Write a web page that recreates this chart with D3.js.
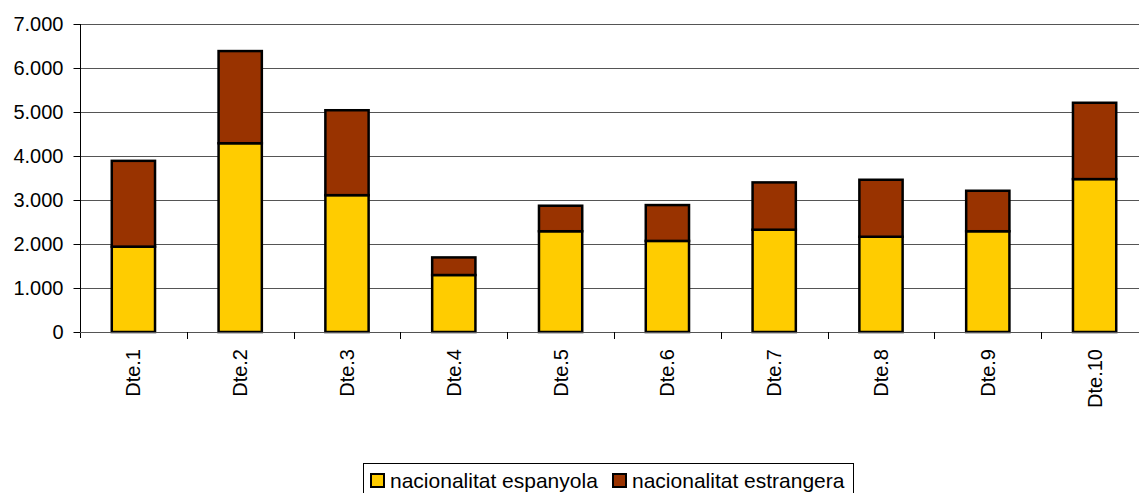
<!DOCTYPE html>
<html>
<head>
<meta charset="utf-8">
<script src="https://cdn.jsdelivr.net/npm/d3@7"></script>
<style>
  html, body { margin: 0; padding: 0; background: #fff; }
  svg { display: block; font-family: "Liberation Sans", Arial, sans-serif; }
</style>
</head>
<body>
<svg id="chart" width="1139" height="493"></svg>
<script>
// Districts and residents by nationality
const categories = ["Dte.1", "Dte.2", "Dte.3", "Dte.4", "Dte.5", "Dte.6", "Dte.7", "Dte.8", "Dte.9", "Dte.10"];
const espanyola  = [1940, 4290, 3110, 1295, 2290, 2070, 2325, 2165, 2290, 3475];
const estrangera = [1950, 2095, 1930, 400, 580, 815, 1075, 1295, 920, 1735];
const seriesNames = ["nacionalitat espanyola", "nacionalitat estrangera"];
const seriesColors = ["#FFCC00", "#993300"];
const yTicks = [0, 1000, 2000, 3000, 4000, 5000, 6000, 7000];

const svg = d3.select("#chart");
const fontSize = 20;
const legendFontSize = 21;
const plotLeft = 80, plotRight = 1148, plotTop = 24, plotBottom = 332;

const x = d3.scaleBand().domain(categories).range([plotLeft, plotRight]).padding(0);
const y = d3.scaleLinear().domain([0, 7000]).range([plotBottom, plotTop]);
const fmt = v => d3.format(",")(v).replace(/,/g, ".");

// gridlines
svg.append("g").selectAll("line").data(yTicks.filter(d => d > 0)).join("line")
  .attr("x1", plotLeft).attr("x2", plotRight)
  .attr("y1", d => Math.round(y(d)) + 0.5).attr("y2", d => Math.round(y(d)) + 0.5)
  .attr("stroke", "#555").attr("stroke-width", 1);

// stacked bars
const stack = d3.stack().keys([0, 1]).value((d, k) => d[k]);
const rows = categories.map((c, i) => Object.assign([espanyola[i], estrangera[i]], { cat: c }));
const layers = stack(rows);
const barW = x.bandwidth() * 0.405;

svg.append("g").selectAll("g").data(layers).join("g")
  .attr("fill", (d, i) => seriesColors[i])
  .selectAll("rect").data(d => d).join("rect")
  .attr("x", d => x(d.data.cat) + (x.bandwidth() - barW) / 2)
  .attr("y", d => y(d[1]))
  .attr("width", barW)
  .attr("height", d => y(d[0]) - y(d[1]))
  .attr("stroke", "#000").attr("stroke-width", 2.5);

// y axis
const yAxis = svg.append("g").attr("transform", `translate(${plotLeft + 0.5},0)`)
  .call(d3.axisLeft(y).tickValues(yTicks).tickFormat(fmt).tickSize(7).tickPadding(10));
yAxis.select(".domain").attr("stroke", "#000").attr("d", `M0,${plotTop}V${plotBottom + 6}`);
yAxis.selectAll(".tick line").attr("stroke", "#000");
yAxis.selectAll(".tick text").attr("font-size", fontSize).attr("font-family", "Liberation Sans, Arial, sans-serif").attr("fill", "#000");

// x axis baseline and category separators
const xg = svg.append("g");
xg.append("line").attr("x1", plotLeft).attr("x2", plotRight)
  .attr("y1", plotBottom + 0.5).attr("y2", plotBottom + 0.5).attr("stroke", "#555");
xg.selectAll("line.sep").data(categories.slice(1)).join("line").attr("class", "sep")
  .attr("x1", d => Math.round(x(d)) + 0.5).attr("x2", d => Math.round(x(d)) + 0.5)
  .attr("y1", plotBottom).attr("y2", plotBottom + 7).attr("stroke", "#000");

// rotated category labels
xg.selectAll("text").data(categories).join("text")
  .attr("transform", d => `translate(${x(d) + x.bandwidth() / 2 + 7},${plotBottom + 17}) rotate(-90)`)
  .attr("text-anchor", "end")
  .attr("font-size", fontSize)
  .attr("fill", "#000")
  .text(d => d);

// legend
const lg = svg.append("g");
lg.append("rect").attr("x", 363.5).attr("y", 463.5).attr("width", 490).attr("height", 40)
  .attr("fill", "#fff").attr("stroke", "#000").attr("stroke-width", 1);
const legendX = [370, 612];
seriesNames.forEach((name, i) => {
  lg.append("rect").attr("x", legendX[i] + 1).attr("y", 474).attr("width", 13).attr("height", 13)
    .attr("fill", seriesColors[i]).attr("stroke", "#000").attr("stroke-width", 2);
  lg.append("text").attr("x", legendX[i] + 20).attr("y", 488)
    .attr("font-size", legendFontSize).attr("fill", "#000").text(name);
});
</script>
</body>
</html>
